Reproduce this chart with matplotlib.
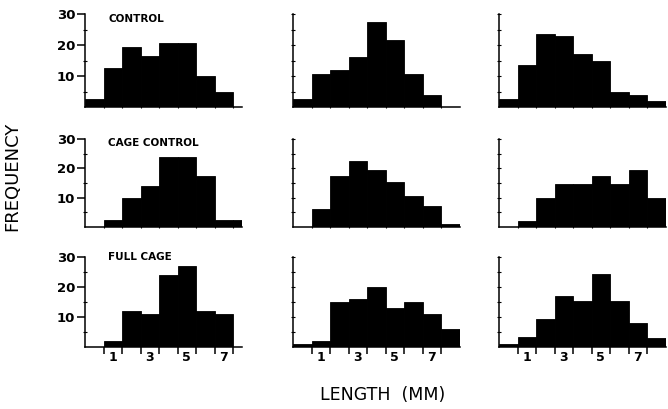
import numpy as np
import matplotlib
matplotlib.use("Agg")
import matplotlib.pyplot as plt

# frecuencias por clase de talla (mm), clases centradas en 0..8
control = [
    [2.5, 12.5, 19.5, 16.5, 20.5, 20.5, 10, 5],
    [2.5, 10.5, 12, 16, 27.5, 21.5, 10.5, 4],
    [2.5, 13.5, 23.5, 23, 17, 15, 5, 4, 2],
]
cage_control = [
    [0, 2.5, 10, 14, 24, 24, 17.5, 2.5, 2.5],
    [0, 6, 17.5, 22.5, 19.5, 15.5, 10.5, 7, 1],
    [0, 2, 10, 14.5, 14.5, 17.5, 14.5, 19.5, 10],
]
full_cage = [
    [0, 2, 12, 11, 24, 27, 12, 11],
    [1, 2, 15, 16, 20, 13, 15, 11, 6],
    [1, 3.5, 9.5, 17, 15.5, 24.5, 15.5, 8, 3],
]
tratamientos = ["CONTROL", "CAGE CONTROL", "FULL CAGE"]
y_ticks = [10, 20, 30]
x_labels = [1, 3, 5, 7]

W, H = 668, 409
fig = plt.figure(figsize=(W / 100, H / 100), dpi=100)
fig.patch.set_facecolor("white")

px = 18.5  # ancho de una clase en pixeles
filas = [(302, 93, 28.5), (182, 88, 28.5), (62, 90, 30)]  # base, alto, y del titulo
columnas = [(85, 8.0), (293, 8.5), (499, 8.5)]  # x del eje, limite derecho

datos = [control, cage_control, full_cage]

for i, (y0, alto, y_tit) in enumerate(filas):
    for j, (x0, xmax) in enumerate(columnas):
        ancho = (xmax + 0.5) * px
        ax = fig.add_axes([x0 / W, y0 / H, ancho / W, alto / H])
        v = datos[i][j]
        ax.bar(np.arange(len(v)), v, width=1.0, color="black",
               edgecolor="black", linewidth=0.6)
        ax.set_xlim(-0.5, xmax)
        ax.set_ylim(0, 30)
        for s in ["top", "right"]:
            ax.spines[s].set_visible(False)
        for s in ["left", "bottom"]:
            ax.spines[s].set_linewidth(1.1)
        ax.set_facecolor("none")

        # eje y
        if j == 0:
            ax.set_yticks(y_ticks)
            ax.set_yticklabels([str(t) for t in y_ticks], fontsize=9.5,
                               fontweight="bold")
            ax.set_yticks([5, 15, 25], minor=True)
            ax.tick_params(axis="y", which="major", direction="out",
                           length=6, width=1.1, pad=1)
            ax.tick_params(axis="y", which="minor", direction="inout",
                           length=2.5, width=0.8)
            ax.text(0.75, y_tit, tratamientos[i], fontsize=7.5,
                    fontweight="bold", va="center", ha="left")
        else:
            ax.set_yticks([5, 10, 15, 20, 25, 30])
            ax.set_yticklabels([])
            ax.tick_params(axis="y", direction="inout", length=2.5, width=0.8)

        # eje x
        bordes = np.arange(0.5, 8, 1.0)
        ax.set_xticks(bordes)
        ax.set_xticklabels([])
        if i == 2:
            ax.tick_params(axis="x", which="major", direction="out",
                           length=5, width=1.1)
            ax.set_xticks(x_labels, minor=True)
            ax.set_xticklabels([str(t) for t in x_labels], minor=True,
                               fontsize=9, fontweight="bold")
            ax.tick_params(axis="x", which="minor", length=0, pad=3)
        else:
            ax.tick_params(axis="x", direction="inout", length=2, width=0.8)

fig.text(12 / W, 1 - 176 / H, "FREQUENCY", rotation=90, fontsize=13,
         ha="center", va="center")
fig.text(383 / W, 1 - 395 / H, "LENGTH  (MM)", fontsize=12.5,
         ha="center", va="center")

fig.savefig("out.png", dpi=100, facecolor="white")
